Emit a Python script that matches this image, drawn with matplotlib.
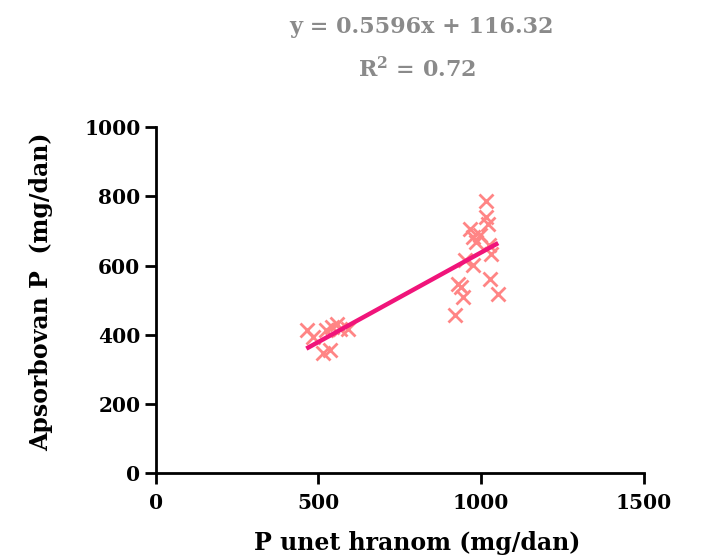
import matplotlib.pyplot as plt

# P intake vs absorbed P (mg/dan)
p_intake = [464, 484, 515, 535, 525, 556, 566, 592, 541,
            1017, 1017, 1022, 966, 976, 986, 996, 1026, 1032, 950,
            976, 1027, 1053, 930, 940, 945, 920]
p_absorbed = [413, 394, 346, 355, 413, 432, 418, 418, 422,
              787, 740, 720, 706, 682, 667, 687, 659, 634, 616,
              602, 562, 519, 548, 538, 509, 457]

# fitted line as drawn
fit_x = [463, 1053]
fit_y = [360, 665]

eq_text = "y = 0.5596x + 116.32"
r2_text = "R$^2$ = 0.72"

xticks = [0, 500, 1000, 1500]
yticks = [0, 200, 400, 600, 800, 1000]

plt.rcParams['font.family'] = ['DejaVu Serif']
plt.rcParams['font.weight'] = 'bold'
plt.rcParams['mathtext.fontset'] = 'custom'
plt.rcParams['mathtext.rm'] = 'DejaVu Serif:bold'
plt.rcParams['mathtext.it'] = 'DejaVu Serif:bold'
plt.rcParams['mathtext.bf'] = 'DejaVu Serif:bold'

fig = plt.figure(figsize=(7.08, 5.6), dpi=100)
ax = fig.add_axes([0.220, 0.155, 0.689, 0.618])

ax.plot(p_intake, p_absorbed, linestyle='none', marker='x', markersize=10,
        markeredgewidth=2, color='#ff8585', zorder=2)
ax.plot(fit_x, fit_y, color='#f0147a', linewidth=3.2, solid_capstyle='butt', zorder=3)

ax.set_xlim(0, 1500)
ax.set_ylim(0, 1000)
ax.set_xticks(xticks)
ax.set_yticks(yticks)
ax.tick_params(direction='out', length=8, width=2, labelsize=14.5, pad=3)
ax.tick_params(axis='x', pad=6)
for s in ['top', 'right']:
    ax.spines[s].set_visible(False)
for s in ['left', 'bottom']:
    ax.spines[s].set_linewidth(2)

ax.set_xlabel("P unet hranom (mg/dan)", fontsize=17, fontweight='bold')
ax.set_ylabel("Apsorbovan P  (mg/dan)", fontsize=17, fontweight='bold')
ax.xaxis.set_label_coords(0.535, -0.168)
ax.yaxis.set_label_coords(-0.211, 0.523)

fig.text(0.596, 0.952, eq_text, ha='center', va='center', fontsize=16,
         fontweight='bold', color='#8a8a8a')
fig.text(0.59, 0.875, r2_text, ha='center', va='center', fontsize=16,
         fontweight='bold', color='#8a8a8a')

fig.savefig('out.png', dpi=100)
